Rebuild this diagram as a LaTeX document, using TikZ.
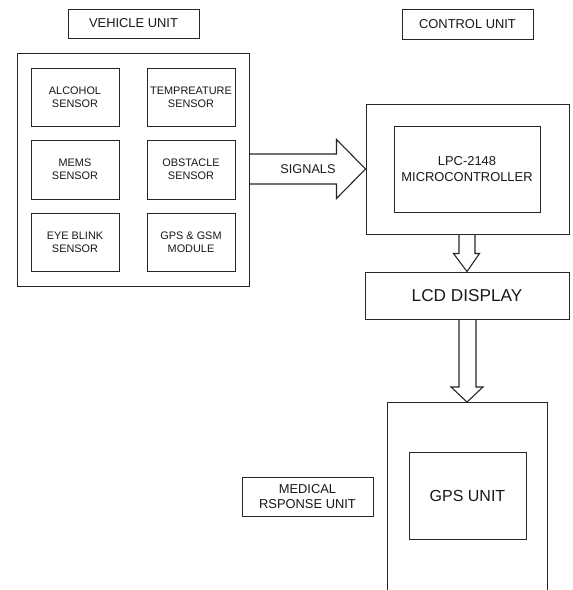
\documentclass[tikz,border=0pt]{standalone}
\usepackage{fontspec}
\setmainfont{Liberation Sans}
\usetikzlibrary{calc}
\tikzset{
  box/.style={draw=black!85, line width=0.95pt, rectangle, inner sep=0pt, align=center, text=black!90},
  sens/.style={box, minimum width=88pt, minimum height=58pt, font=\fontsize{10.9}{12.7}\selectfont},
  lbl/.style={box, minimum width=131pt, font=\fontsize{12.9}{15.8}\selectfont},
  fatarrow/.style={draw=black!85, line width=1.1pt, line join=miter}
}
\begin{document}
\begin{tikzpicture}[x=1pt,y=-1pt]
\fill[white] (0,0) rectangle (573,590);
\useasboundingbox (0,0) rectangle (573,590);

% vehicle unit
\node[lbl, minimum height=29pt] (vlbl) at (133.5,23.5) {VEHICLE UNIT};
\node[box, minimum width=232pt, minimum height=233pt] (veh) at (133,169.5) {};
\node[sens] (alc) at (75,97) {ALCOHOL\\SENSOR};
\node[sens] (temp) at (191,97) {TEMPREATURE\\SENSOR};
\node[sens, minimum height=59pt] (mems) at (75,169.5) {MEMS\\SENSOR};
\node[sens, minimum height=59pt] (obs) at (191,169.5) {OBSTACLE\\SENSOR};
\node[sens] (eye) at (75,242) {EYE BLINK\\SENSOR};
\node[sens] (gpsgsm) at (191,242) {GPS \& GSM\\MODULE};

% control unit
\node[lbl, minimum height=30pt] (clbl) at (467.5,24) {CONTROL UNIT};
\node[box, minimum width=203pt, minimum height=130pt] (ctrl) at (467.5,169) {};
\node[box, minimum width=146pt, minimum height=86pt, font=\fontsize{12.9}{16}\selectfont] (mc) at (467,169) {LPC-2148\\MICROCONTROLLER};

% LCD
\node[box, minimum width=204pt, minimum height=47pt, font=\fontsize{17.2}{20}\selectfont] (lcd) at (467,295.5) {LCD DISPLAY};

% GPS (medical response) unit, open at the bottom of the picture
\coordinate (gpstop) at (467,402);
\coordinate (gpsbl) at (387,590);
\coordinate (gpsbr) at (547,590);
\draw[draw=black!85, line width=0.95pt] (gpsbl) -- (gpsbl |- gpstop) -- (gpsbr |- gpstop) -- (gpsbr);
\node[box, minimum width=117pt, minimum height=87pt, font=\fontsize{16}{19}\selectfont] (gps) at (467.5,495.5) {GPS UNIT};
\node[lbl, minimum height=39pt] (med) at (307.5,496.5) {MEDICAL\\RSPONSE UNIT};

% signals arrow
\draw[fatarrow] ($(veh.east)+(0,-15.5)$) -- ($(ctrl.west)+(-29,-15)$) -- ($(ctrl.west)+(-29,-29.5)$)
  -- (ctrl.west) -- ($(ctrl.west)+(-29,29.5)$) -- ($(ctrl.west)+(-29,15)$) -- ($(veh.east)+(0,14.5)$);
\node[font=\fontsize{12.7}{15}\selectfont, text=black!90] (sig) at (308,169) {SIGNALS};

% control -> LCD
\draw[fatarrow] ($(lcd.north |- ctrl.south)+(-8,0)$) -- ($(lcd.north)+(-8,-18)$) -- ($(lcd.north)+(-13.5,-18)$)
  -- (lcd.north) -- ($(lcd.north)+(12.5,-18)$) -- ($(lcd.north)+(8,-18)$) -- ($(lcd.north |- ctrl.south)+(8,0)$);

% LCD -> GPS unit
\draw[fatarrow] ($(lcd.south)+(-8,0)$) -- ($(gpstop)+(-8,-15)$) -- ($(gpstop)+(-16,-15)$)
  -- (gpstop) -- ($(gpstop)+(16,-15)$) -- ($(gpstop)+(9,-15)$) -- ($(lcd.south)+(9,0)$);
\end{tikzpicture}
\end{document}
